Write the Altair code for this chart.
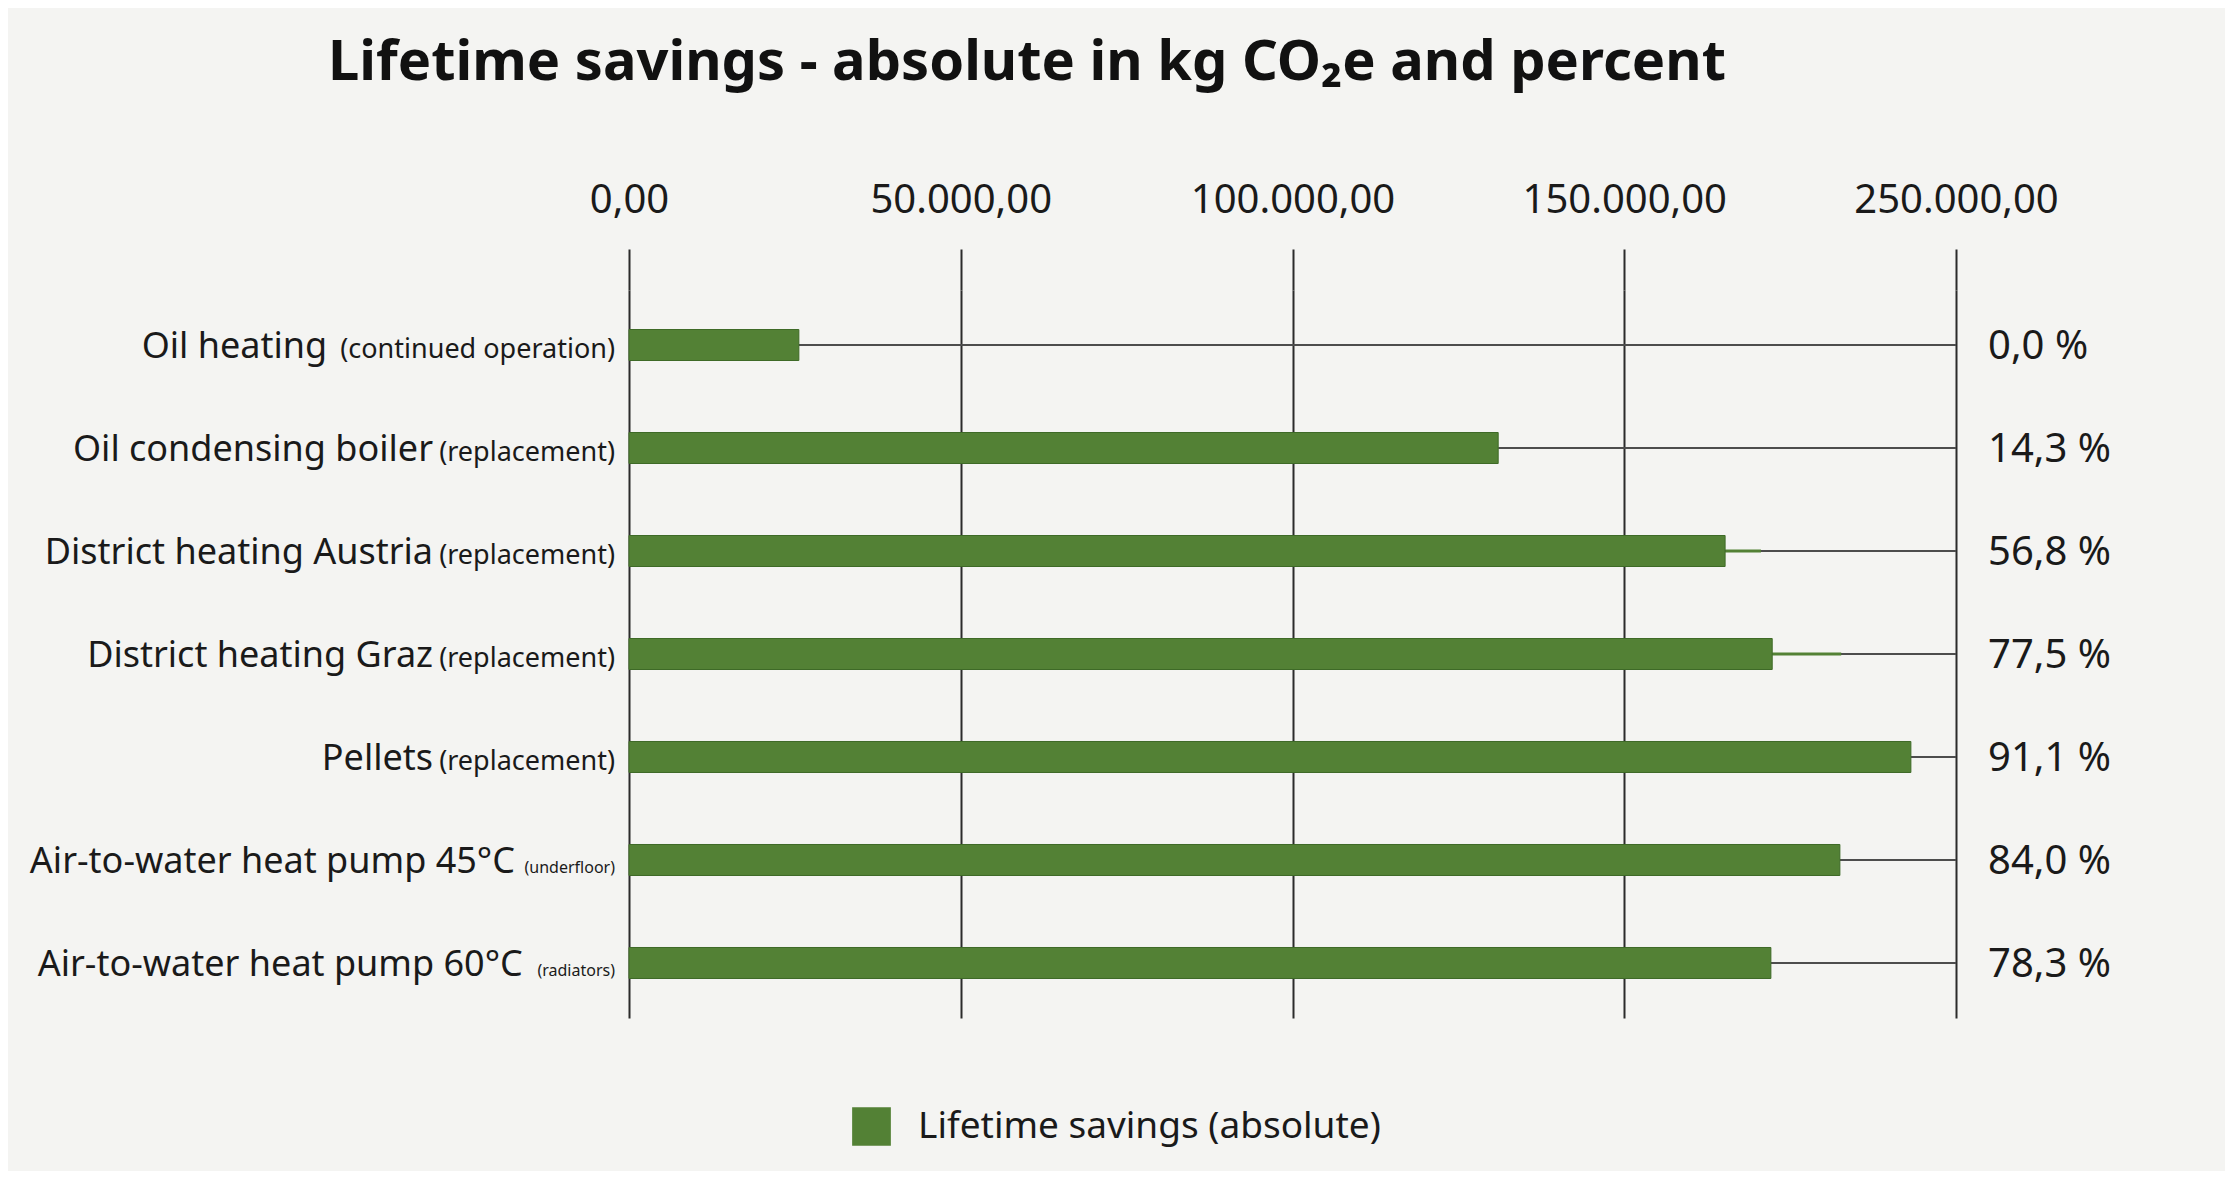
import altair as alt
import pandas as pd

# ---- data ----
labels_main = ["Oil heating", "Oil condensing boiler", "District heating Austria",
               "District heating Graz", "Pellets", "Air-to-water heat pump 45°C",
               "Air-to-water heat pump 60°C"]
labels_sub = ["(continued operation)", "(replacement)", "(replacement)",
              "(replacement)", "(replacement)", "(underfloor)", "(radiators)"]
savings_abs = [25600, 131000, 165200, 172300, 193200, 182500, 172100]
savings_ext = [None, None, 170600, 182700, None, None, None]
savings_pct = [0.0, 14.3, 56.8, 77.5, 91.1, 84.0, 78.3]
tick_values = [0, 50000, 100000, 150000, 200000]
tick_labels = ["0,00", "50.000,00", "100.000,00", "150.000,00", "250.000,00"]
series_name = "Lifetime savings (absolute)"

df = pd.DataFrame({
    "main": labels_main,
    "sub": labels_sub,
    "value": savings_abs,
    "ext": savings_ext,
    "pct": savings_pct,
})
df["key"] = df["main"] + " " + df["sub"]
df["series"] = series_name
df["xmax"] = max(tick_values)
order = list(df["key"])

GREEN = "#538135"
FONT = "Noto Sans"
TEXT = "#1a1a1a"

xscale = alt.Scale(domain=[min(tick_values), max(tick_values)], nice=False, zero=True)
yenc = alt.Y("key:N", sort=order, axis=None,
             scale=alt.Scale(paddingInner=0, paddingOuter=0.034))

label_expr = "[" + ",".join(f"'{t}'" for t in tick_labels) + "][indexof([" + \
    ",".join(str(v) for v in tick_values) + "], datum.value)]"

base = alt.Chart(df).transform_calculate(
    subsize="(datum.sub == '(underfloor)' || datum.sub == '(radiators)') ? 16 : 27",
).transform_calculate(
    subw="length(datum.sub) * 0.49 * datum.subsize",
    pcttext="replace(format(datum.pct, '.1f'), '.', ',') + ' %'",
)

lines = base.mark_rule(color="#4d4d4d", strokeWidth=2).encode(
    x=alt.X("value:Q", scale=xscale,
            axis=alt.Axis(orient="top", values=tick_values, labelExpr=label_expr,
                          grid=True, gridColor="#2b2b2b", gridWidth=2,
                          ticks=True, tickSize=41, tickColor="#2b2b2b", tickWidth=2,
                          domain=False, title=None, labelFont=FONT, labelFontSize=40,
                          labelColor=TEXT, labelPadding=29, labelLimit=600,
                          labelOverlap=False, labelFlush=False)),
    x2="xmax:Q",
    y=yenc,
)

ext = base.transform_filter("isValid(datum.ext)").mark_rule(
    color=GREEN, strokeWidth=3).encode(
    x=alt.X("value:Q", scale=xscale), x2="ext:Q", y=yenc)

bars = base.mark_bar(size=31, stroke="#3e6a27", strokeWidth=1).encode(
    x=alt.X("value:Q", scale=xscale),
    y=yenc,
    color=alt.Color("series:N", scale=alt.Scale(range=[GREEN]),
                    legend=alt.Legend(title=None, orient="none", legendX=223, legendY=817,
                                      symbolType="square", symbolSize=1500,
                                      symbolStrokeWidth=0, labelFont=FONT,
                                      labelFontSize=37, labelColor=TEXT,
                                      labelOffset=27, labelLimit=800)),
)

main_txt = base.mark_text(align="right", baseline="alphabetic", dy=13,
                          dx={"expr": "-(14 + datum.subw + 0.37 * datum.subsize)"},
                          font=FONT, fontSize=36, color=TEXT).encode(
    x=alt.value(0), y=yenc, text="main:N")

sub_txt = base.mark_text(align="right", baseline="alphabetic", dy=13, dx=-14,
                         font=FONT, color=TEXT).encode(
    x=alt.value(0), y=yenc, text="sub:N",
    size=alt.Size("subsize:Q", scale=None, legend=None))

pct_txt = base.mark_text(align="left", baseline="alphabetic", dy=14, dx=32,
                         font=FONT, fontSize=40, color=TEXT).encode(
    x=alt.X("xmax:Q", scale=xscale), y=yenc, text="pcttext:N")

chart = alt.layer(lines, ext, bars, main_txt, sub_txt, pct_txt).properties(
    width=1327, height=728,
    autosize=alt.AutoSizeParams(type="none"),
    padding={"left": 621, "top": 282, "right": 269, "bottom": 153},
    background="#f4f4f2",
    title=alt.TitleParams("Lifetime savings - absolute in kg CO₂e and percent",
                          anchor="start", frame="group", dx=-301, offset=88,
                          font=FONT, fontSize=56, fontWeight="bold", color="#111111"),
).configure_view(stroke=None)

chart.save("out.html", embed_options={"renderer": "svg", "actions": False})
